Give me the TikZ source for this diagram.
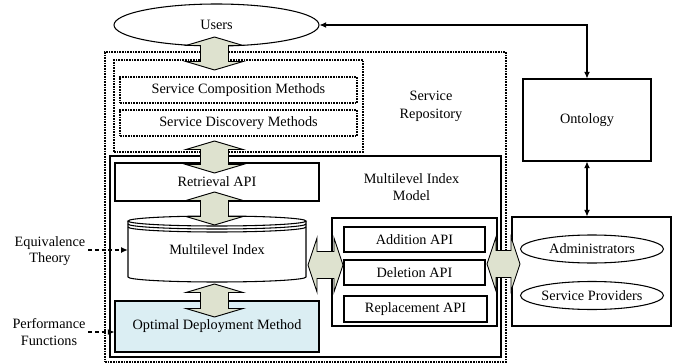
\documentclass[tikz,border=0pt]{standalone}
\usepackage{fontspec}
\setmainfont{Liberation Serif}
\usetikzlibrary{fit,shapes.geometric,arrows.meta,calc}
\definecolor{blkfill}{HTML}{DEE2CF}
\definecolor{optfill}{HTML}{DBEEF3}
\newcommand\vblock[3]{%
 \draw[blk] (#1,#2) -- (#1+28.5,#2+8.5) -- (#1+14,#2+8.5) -- (#1+14,#3-8.5) -- (#1+28.5,#3-8.5) -- (#1,#3) -- (#1-28.5,#3-8.5) -- (#1-14,#3-8.5) -- (#1-14,#2+8.5) -- (#1-28.5,#2+8.5) -- cycle;}
\newcommand\hblock[3]{%
 \draw[blk] (#2,#1) -- (#2+9,#1-27) -- (#2+9,#1-13.5) -- (#3-9,#1-13.5) -- (#3-9,#1-27) -- (#3,#1) -- (#3-9,#1+27) -- (#3-9,#1+13.5) -- (#2+9,#1+13.5) -- (#2+9,#1+27) -- cycle;}
\tikzset{
  every node/.style={font=\fontsize{10.7}{12.5}\selectfont, text=black},
  sbox/.style={draw, line width=0.8pt, inner sep=0pt},
  dbox/.style={draw, line width=0.8pt, dash pattern=on 1.2pt off 0.8pt, inner sep=0pt},
  oval/.style={draw, ellipse, line width=0.8pt, inner sep=0pt, fill=white},
  blk/.style={draw, line width=0.7pt, fill=blkfill, line join=miter},
  thinarr/.style={line width=0.8pt, {Latex[length=5pt,width=4.5pt]}-{Latex[length=5pt,width=4.5pt]}},
  dasharr/.style={line width=0.8pt, dash pattern=on 3pt off 2pt, -{Latex[length=5pt,width=4.5pt]}},
  lbl/.style={align=center, inner sep=2pt},
  every label/.style={inner sep=0pt, font=\fontsize{10.7}{12.5}\selectfont}
}
\begin{document}
\begin{tikzpicture}[x=0.75pt,y=-0.75pt]
\useasboundingbox (0,0) rectangle (683,364);
% Service repository (outer dotted)
\node[dbox, fit={(105,52) (506,362)}] (repo) {};
\node[dbox, fit={(114,60) (363,152)}] (methods) {};
\node[dbox, fit={(120,77) (357,103)}, label=center:Service Composition Methods] (comp) {};
\node[dbox, fit={(120,110) (357,136)}, label=center:Service Discovery Methods] (disc) {};
\node[lbl] (repolbl) at (431,106) {Service\\[1pt]Repository};
% Multilevel index model
\node[sbox, fit={(110,156) (501,357)}] (mim) {};
\node[lbl] (mimlbl) at (411.5,187) {Multilevel Index\\Model};
\node[sbox, fit={(115,163) (319,201)}, label=center:Retrieval API] (retr) {};
% cylinder
\node[fit={(128,216) (306,282)}, inner sep=0pt] (idx) {};
\filldraw[line width=0.8pt, fill=white] (128,221) -- (128,277) arc[start angle=180, end angle=360, x radius=66.75pt, y radius=3.75pt] -- (306,221);
\filldraw[line width=0.8pt, fill=white] (217,221) ellipse[x radius=66.75pt, y radius=3.75pt];
\draw[line width=0.8pt] (128,224) arc[start angle=180, end angle=360, x radius=66.75pt, y radius=3.75pt];
\draw[line width=0.8pt] (128,227) arc[start angle=180, end angle=360, x radius=66.75pt, y radius=3.75pt];
\node (idxlbl) at (217,250) {Multilevel Index};
\node[sbox, fill=optfill, fit={(115,301) (319,352)}, label=center:Optimal Deployment Method] (opt) {};
% API group
\node[sbox, fit={(332,218) (497,326)}] (apis) {};
\node[sbox, fit={(344,227) (485,252)}, label=center:Addition API] (add) {};
\node[sbox, fit={(344,260) (485,285)}, label=center:Deletion API] (del) {};
\node[sbox, fit={(344,296) (487,322)}, label=center:Replacement API] (rep) {};
% right side
\node[sbox, fit={(512,217) (671,326)}] (rbox) {};
\node[oval, minimum width={143*0.75pt}, minimum height={28*0.75pt}] (adm) at (592,249) {Administrators};
\node[oval, minimum width={143*0.75pt}, minimum height={28*0.75pt}] (sp) at (592,295.5) {Service Providers};
\node[sbox, fit={(523,79) (651,161)}, label=center:Ontology] (ont) {};
% users
\node[oval, minimum width={205*0.75pt}, minimum height={42*0.75pt}] (users) at (216.5,25) {Users};
% left labels
\node[lbl] (eq) at (50,251) {Equivalence\\Theory};
\node[lbl] (perf) at (49,332) {Performance\\Functions};
% block arrows
\vblock{214.5}{37}{70}
\vblock{214.5}{141}{173}
\vblock{214.5}{192}{225}
\vblock{214.5}{284}{317}
\hblock{265}{308}{343}
\hblock{264}{487}{520}
% thin arrows
\draw[thinarr] (users.east) -- (ont.north |- users.east) -- (ont.north);
\draw[thinarr] (ont.south) -- (ont.south |- rbox.north);
\draw[dasharr] (eq.east |- 0,250) -- (idx.west |- 0,250);
\draw[dasharr] (perf.east) -- (opt.west |- perf.east);
\end{tikzpicture}
\end{document}
